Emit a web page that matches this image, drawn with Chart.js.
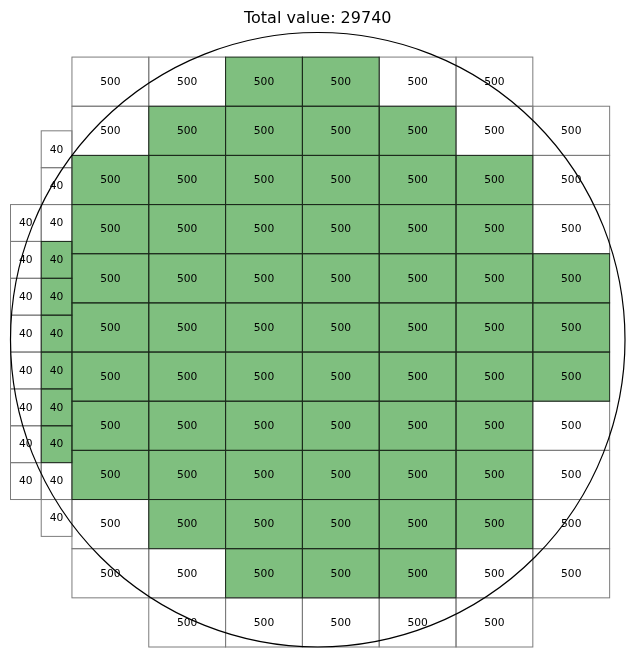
<!DOCTYPE html>
<html>
<head>
<meta charset="utf-8">
<script src="https://cdn.jsdelivr.net/npm/chart.js@4.4.0/dist/chart.umd.min.js"></script>
<style>
  html, body { margin: 0; padding: 0; background: #fff; }
</style>
</head>
<body>
<canvas id="waferChart" width="636" height="658"></canvas>
<script>
// wafer outline, mm
const waferRadius = 100;

// big dies: 25 x 16 mm, worth 500 each
const bigValue = 500;
const bigWidth = 25;
const bigHeight = 16;
const bigColLeft = [-80, -55, -30, -5, 20, 45, 70];
const bigRowTop = [92, 76, 60, 44, 28, 12, -4, -20, -36, -52, -68, -84];
// ' ' = no die, '0' = not counted (white), '1' = counted (green)
const bigMap = [
  "001100 ",
  "0111100",
  "1111110",
  "1111110",
  "1111111",
  "1111111",
  "1111111",
  "1111110",
  "1111110",
  "0111110",
  "0011100",
  " 00000 "
];

// small dies: 10 x 12 mm, worth 40 each
const smallValue = 40;
const smallWidth = 10;
const smallHeight = 12;
const smallColLeft = [-100, -90];
const smallRowTop = [68, 56, 44, 32, 20, 8, -4, -16, -28, -40, -52];
const smallMap = [" 0", " 0", "00", "01", "01", "01", "01", "01", "01", "00", " 0"];

const GREEN = "#7fbf7f";
const EDGE_ON = "#1c2a1c";
const EDGE_OFF = "#7c7c7c";

function buildDies(map, colLeft, rowTop, w, h) {
  const pts = [];
  const on = [];
  map.forEach((row, r) => {
    [...row].forEach((ch, c) => {
      if (ch === " ") return;
      pts.push({ x: colLeft[c] + w / 2, y: [rowTop[r] - h, rowTop[r]] });
      on.push(ch === "1");
    });
  });
  return { pts, on };
}

const big = buildDies(bigMap, bigColLeft, bigRowTop, bigWidth, bigHeight);
const small = buildDies(smallMap, smallColLeft, smallRowTop, smallWidth, smallHeight);

const total = big.on.filter(Boolean).length * bigValue + small.on.filter(Boolean).length * smallValue;

function dieDataset(label, dies, value, axisId) {
  return {
    label: label,
    data: dies.pts,
    dieValue: value,
    dieOn: dies.on,
    xAxisID: axisId,
    backgroundColor: dies.on.map(o => o ? GREEN : "#ffffff"),
    borderWidth: 0,
    inflateAmount: 0,
    grouped: false,
    categoryPercentage: 1,
    barPercentage: 1
  };
}

// die edges, wafer circle and die labels, placed through the chart's bar elements / scales
const waferOverlay = {
  id: "waferOverlay",
  afterDatasetsDraw(chart) {
    const { ctx } = chart;
    const x = chart.scales.x;
    const y = chart.scales.y;

    ctx.save();
    ctx.lineWidth = 1;
    // white-die edges first, then green-die edges on top
    [false, true].forEach(state => {
      ctx.strokeStyle = state ? EDGE_ON : EDGE_OFF;
      chart.data.datasets.forEach((ds, i) => {
        chart.getDatasetMeta(i).data.forEach((bar, j) => {
          if (ds.dieOn[j] !== state) return;
          const p = bar.getProps(["x", "y", "base", "width"], true);
          ctx.strokeRect(p.x - p.width / 2, Math.min(p.y, p.base), p.width, Math.abs(p.base - p.y));
        });
      });
    });

    const cx = x.getPixelForValue(0);
    const cy = y.getPixelForValue(0);
    const rx = x.getPixelForValue(waferRadius) - cx;
    const ry = cy - y.getPixelForValue(waferRadius);
    ctx.beginPath();
    ctx.ellipse(cx, cy, rx, ry, 0, 0, Math.PI * 2);
    ctx.strokeStyle = "#000";
    ctx.lineWidth = 1.2;
    ctx.stroke();

    ctx.font = '10.7px "DejaVu Sans"';
    ctx.fillStyle = "#000";
    ctx.textAlign = "center";
    ctx.textBaseline = "middle";
    chart.data.datasets.forEach((ds, i) => {
      chart.getDatasetMeta(i).data.forEach(bar => {
        const p = bar.getProps(["x", "y", "base"], true);
        ctx.fillText(String(ds.dieValue), p.x, (p.y + p.base) / 2 + 0.5);
      });
    });
    ctx.restore();
  }
};

const hiddenLinear = {
  type: "linear",
  min: -100,
  max: 100,
  offset: false,
  display: false,
  ticks: { stepSize: 200 }
};

new Chart(document.getElementById("waferChart"), {
  type: "bar",
  data: {
    datasets: [
      dieDataset("big dies", big, bigValue, "x"),
      dieDataset("small dies", small, smallValue, "x2")
    ]
  },
  options: {
    responsive: false,
    animation: false,
    devicePixelRatio: 1,
    layout: { padding: { left: 10.5, right: 11, top: 0, bottom: 11 } },
    scales: {
      x: { ...hiddenLinear, axis: "x" },
      x2: { ...hiddenLinear, axis: "x" },
      y: { ...hiddenLinear, axis: "y" }
    },
    plugins: {
      legend: { display: false },
      tooltip: { enabled: false },
      title: {
        display: true,
        text: "Total value: " + total,
        color: "#000",
        font: { family: "DejaVu Sans", size: 16, weight: "normal" },
        padding: { top: 9, bottom: 4.3 }
      }
    }
  },
  plugins: [waferOverlay]
});
</script>
</body>
</html>
